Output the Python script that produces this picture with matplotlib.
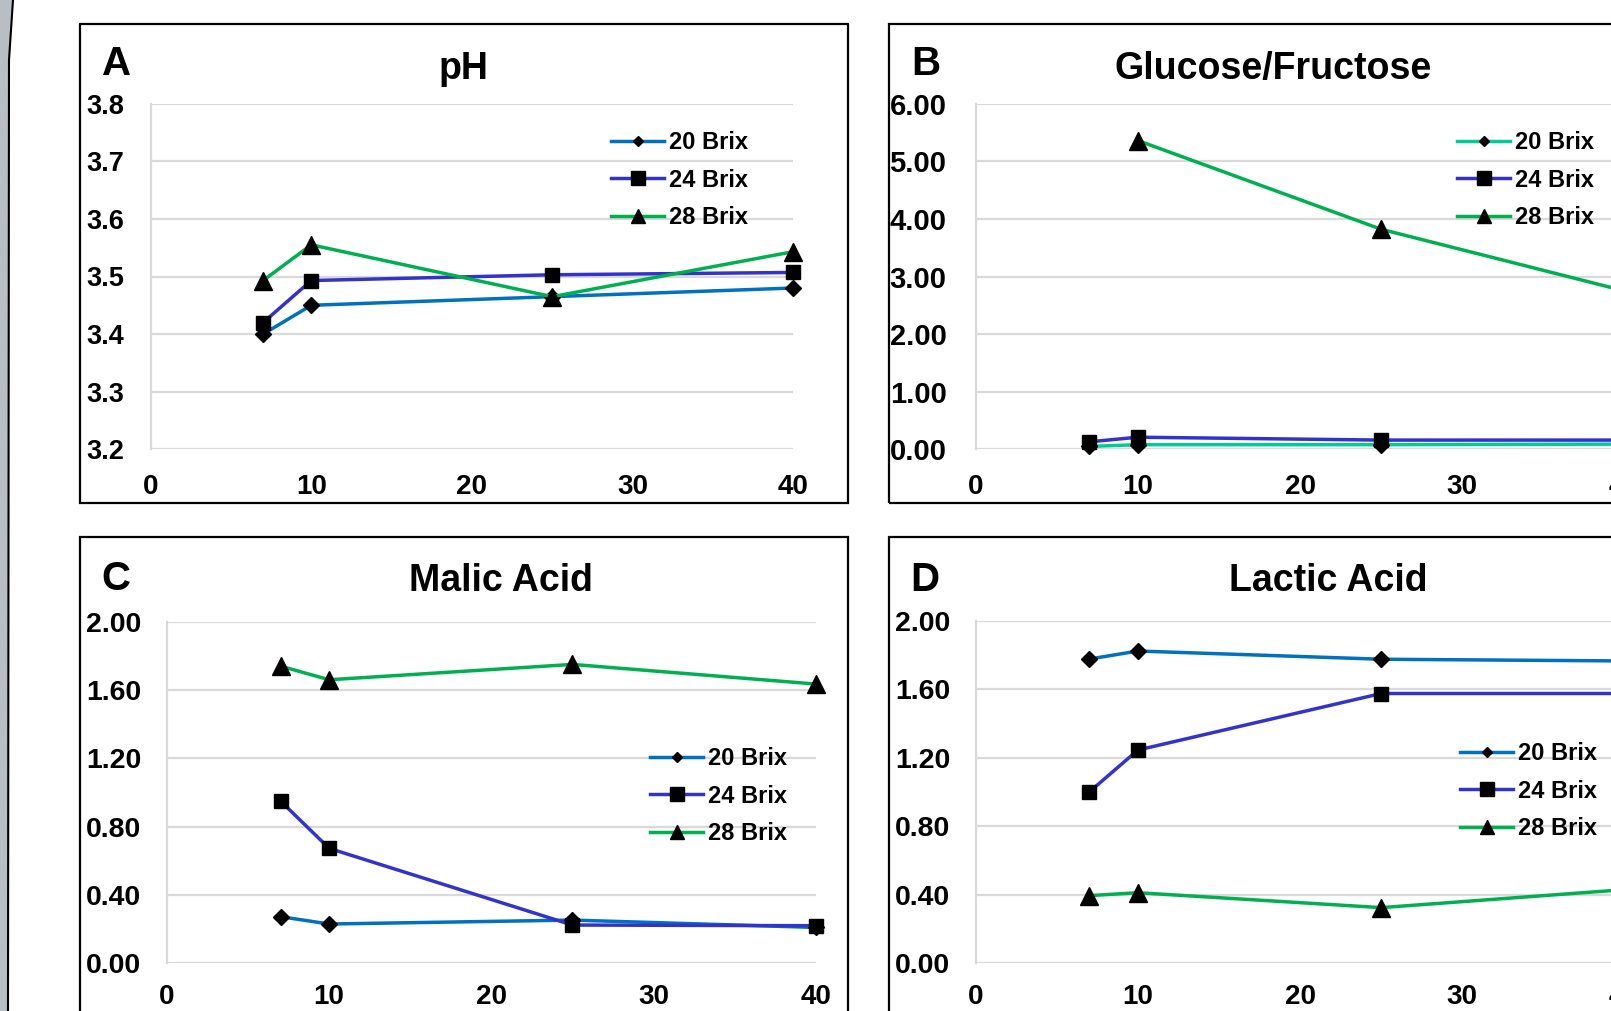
import numpy as np
import matplotlib.pyplot as plt
from matplotlib.lines import Line2D
from matplotlib.patches import Rectangle, Polygon

plt.rcParams['font.family'] = ['Liberation Sans', 'DejaVu Sans']
plt.rcParams['font.weight'] = 'bold'

# days after inoculation
days = [7, 10, 25, 40]
series_names = ['20 Brix', '24 Brix', '28 Brix']

ph_20 = [3.40, 3.45, 3.465, 3.48]
ph_24 = [3.42, 3.493, 3.503, 3.507]
ph_28 = [3.493, 3.555, 3.465, 3.543]

glu_20 = [0.05, 0.08, 0.08, 0.09]
glu_24 = [0.13, 0.21, 0.16, 0.16]
glu_28 = [np.nan, 5.36, 3.82, 2.75]

malic_20 = [0.273, 0.23, 0.253, 0.21]
malic_24 = [0.95, 0.673, 0.224, 0.22]
malic_28 = [1.74, 1.66, 1.75, 1.635]

lactic_20 = [1.776, 1.823, 1.775, 1.765]
lactic_24 = [1.00, 1.245, 1.575, 1.575]
lactic_28 = [0.395, 0.412, 0.325, 0.43]

x_ticks = [0, 10, 20, 30, 40]
ph_ticks = [3.2, 3.3, 3.4, 3.5, 3.6, 3.7, 3.8]
glu_ticks = [0, 1, 2, 3, 4, 5, 6]
acid_ticks = [0.0, 0.4, 0.8, 1.2, 1.6, 2.0]

BLUE = '#0070C0'
TEAL = '#00CC99'
INDIGO = '#3333CC'
GREEN = '#00B050'
GRID = '#D9D9D9'

W, H = 1611, 1011
fig = plt.figure(figsize=(W / 100, H / 100), dpi=100)


def fx(x):
        return x / W


def fy(y):
        return 1 - y / H


# grey slide edge on the left
fig.patches.append(Polygon([(0, 1), (fx(13), 1), (fx(9), fy(60)), (fx(8), 0), (0, 0)],
                           closed=True, transform=fig.transFigure,
                           facecolor='#B9BDC4', edgecolor='none', zorder=0))
fig.lines.append(Line2D([fx(13), fx(9), fx(8)], [1, fy(60), 0], transform=fig.transFigure,
                        color='black', lw=1.5))

# panel frames
for l, t, r, b in [(80, 24, 848, 503), (889, 24, 1680, 503),
                   (80, 537, 848, 1050), (889, 537, 1680, 1050)]:
        fig.patches.append(Rectangle((fx(l), fy(b)), (r - l) / W, (b - t) / H,
                                     transform=fig.transFigure, fill=False,
                                     edgecolor='black', lw=1.6, zorder=1))


def make_axes(l, t, r, b):
        return fig.add_axes([fx(l), fy(b), (r - l) / W, (b - t) / H])


def draw_panel(ax, data, colors, yticks, fmt, ysize, ypad, xpad, letter, lpos, title, tpos, legpos):
        markers = ['D', 's', '^']
        msizes = [8.5, 10, 12.5]
        for vals, c, m, ms in zip(data, colors, markers, msizes):
                ax.plot(days, vals, color=c, lw=2.5, marker=m, ms=ms,
                        mfc='black', mec='black', clip_on=False, zorder=3)
        ax.set_xlim(0, 40)
        ax.set_ylim(yticks[0], yticks[-1])
        ax.set_xticks(x_ticks)
        ax.set_yticks(yticks)
        ax.set_yticklabels([fmt.format(v) for v in yticks])
        ax.tick_params(axis='y', length=0, pad=ypad, labelsize=ysize)
        ax.tick_params(axis='x', length=0, pad=xpad, labelsize=20)
        ax.grid(axis='y', color=GRID, lw=1.6)
        ax.set_axisbelow(True)
        for s in ['top', 'right', 'bottom']:
                ax.spines[s].set_visible(False)
        ax.spines['left'].set_color(GRID)
        ax.spines['left'].set_linewidth(1.6)
        ax.patch.set_alpha(0)

        fig.text(fx(lpos[0]), fy(lpos[1]), letter, fontsize=29, fontweight='bold',
                 ha='left', va='baseline')
        fig.text(fx(tpos[0]), fy(tpos[1]), title, fontsize=27, fontweight='bold',
                 ha='center', va='baseline')

        handles = [Line2D([], [], color=c, lw=2.5, marker=m, ms=ms, mfc='black', mec='black')
                   for c, m, ms in zip(colors, markers, [5, 9.5, 9.5])]
        leg = fig.legend(handles, series_names, loc='upper left',
                         bbox_to_anchor=(fx(legpos[0]), fy(legpos[1])),
                         bbox_transform=fig.transFigure, frameon=False,
                         fontsize=17, handlelength=2.25, handletextpad=0.2,
                         labelspacing=0.62, borderpad=0, borderaxespad=0)
        for txt in leg.get_texts():
                txt.set_fontweight('bold')


ax_a = make_axes(150.7, 103.7, 793, 449.3)
draw_panel(ax_a, [ph_20, ph_24, ph_28], [BLUE, INDIGO, GREEN], ph_ticks, '{:.1f}', 19.5, 19, 18,
           'A', (102, 75), 'pH', (463, 79), (611, 131))

ax_b = make_axes(975.7, 103.7, 1624.5, 449.3)
draw_panel(ax_b, [glu_20, glu_24, glu_28], [TEAL, INDIGO, GREEN], glu_ticks, '{:.2f}', 21, 21, 18,
           'B', (911, 75), 'Glucose/Fructose', (1273, 79), (1457, 131))

ax_c = make_axes(167, 621.7, 815.7, 963.3)
draw_panel(ax_c, [malic_20, malic_24, malic_28], [BLUE, INDIGO, GREEN], acid_ticks, '{:.2f}', 20.5, 18.5, 15,
           'C', (101, 590), 'Malic Acid', (501, 591), (650, 747))

ax_d = make_axes(975.7, 620.7, 1624.5, 963.3)
draw_panel(ax_d, [lactic_20, lactic_24, lactic_28], [BLUE, INDIGO, GREEN], acid_ticks, '{:.2f}', 20.5, 18.5, 15,
           'D', (910, 591), 'Lactic Acid', (1328, 591), (1460, 742))

fig.savefig('out.png', dpi=100)
